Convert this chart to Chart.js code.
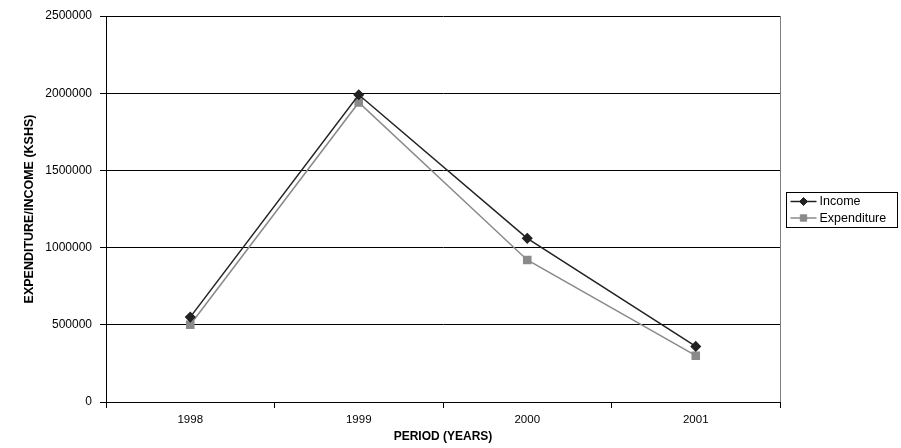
<!DOCTYPE html>
<html>
<head>
<meta charset="utf-8">
<title>Income and Expenditure 1998-2001</title>
<script src="https://cdn.jsdelivr.net/npm/chart.js@4/dist/chart.umd.min.js"></script>
<style>
  html, body { margin: 0; padding: 0; background: #ffffff; }
  #wrap { width: 901px; height: 448px; }
</style>
</head>
<body>
<div id="wrap"><canvas id="chart" width="901" height="448"></canvas></div>
<script>
// Period and amounts (KSHS)
const years = ['1998', '1999', '2000', '2001'];
const income = [550000, 1990000, 1060000, 360000];
const expenditure = [500000, 1940000, 920000, 300000];
const yTicks = [0, 500000, 1000000, 1500000, 2000000, 2500000];

const FONT = 'Liberation Sans, Arial, sans-serif';

// Grey frame on the right of the plot area and a boxed legend at the right
const frameAndLegend = {
  id: 'frameAndLegend',
  afterDraw(chart) {
    const ctx = chart.ctx;
    const a = chart.chartArea;
    ctx.save();
    ctx.strokeStyle = '#808080';
    ctx.lineWidth = 1;
    ctx.beginPath();
    ctx.moveTo(Math.round(a.right) + 0.5, a.top);
    ctx.lineTo(Math.round(a.right) + 0.5, a.bottom);
    ctx.stroke();

    // legend box
    const bx = 786.5, by = 192.5, bw = 111, bh = 35;
    ctx.strokeStyle = '#000000';
    ctx.strokeRect(bx, by, bw, bh);
    ctx.font = '12.5px ' + FONT;
    ctx.textBaseline = 'middle';
    ctx.textAlign = 'left';
    chart.data.datasets.forEach((ds, i) => {
      const y = by + 9 + i * 16.5;
      const x0 = bx + 4, x1 = bx + 30, xm = (x0 + x1) / 2;
      ctx.strokeStyle = ds.borderColor;
      ctx.lineWidth = 1.5;
      ctx.beginPath();
      ctx.moveTo(x0, y);
      ctx.lineTo(x1, y);
      ctx.stroke();
      ctx.fillStyle = ds.pointBackgroundColor;
      ctx.strokeStyle = ds.pointBorderColor;
      ctx.lineWidth = 1;
      Chart.helpers.drawPoint(ctx, {
        pointStyle: ds.pointStyle,
        radius: ds.pointRadius - 0.5,
        rotation: 0,
        borderWidth: 1
      }, xm, y);
      ctx.fillStyle = '#000000';
      ctx.fillText(ds.label, bx + 33, y + 0.5);
    });
    ctx.restore();
  }
};

new Chart(document.getElementById('chart'), {
  type: 'line',
  data: {
    labels: years,
    datasets: [
      {
        label: 'Income',
        data: income,
        borderColor: '#222222',
        backgroundColor: '#222222',
        pointBackgroundColor: '#222222',
        pointBorderColor: '#222222',
        pointStyle: 'rectRot',
        pointRadius: 4.5,
        borderWidth: 1.5,
        tension: 0
      },
      {
        label: 'Expenditure',
        data: expenditure,
        borderColor: '#8a8a8a',
        backgroundColor: '#8a8a8a',
        pointBackgroundColor: '#8a8a8a',
        pointBorderColor: '#8a8a8a',
        pointStyle: 'rect',
        pointRadius: 5,
        borderWidth: 1.5,
        tension: 0
      }
    ]
  },
  options: {
    responsive: false,
    animation: false,
    devicePixelRatio: 1,
    layout: { padding: { left: 0, top: 16, right: 121, bottom: 0 } },
    plugins: {
      legend: { display: false },
      tooltip: { enabled: false }
    },
    scales: {
      x: {
        type: 'category',
        offset: true,
        grid: {
          offset: true,
          drawOnChartArea: false,
          drawTicks: true,
          tickLength: 6,
          color: '#000000',
          lineWidth: 1
        },
        border: { display: true, color: '#000000', width: 1 },
        ticks: {
          color: '#000000',
          font: { family: FONT, size: 11.5 },
          padding: 5,
          maxRotation: 0
        },
        title: {
          display: true,
          text: 'PERIOD (YEARS)',
          color: '#000000',
          font: { family: FONT, size: 12, weight: 'bold' },
          padding: { top: 4, bottom: 4 }
        },
        afterFit(scale) { scale.height = 46; }
      },
      y: {
        min: 0,
        max: 2500000,
        afterBuildTicks(scale) {
          scale.ticks = yTicks.map(v => ({ value: v }));
        },
        grid: {
          drawOnChartArea: true,
          drawTicks: true,
          tickLength: 6,
          color: '#000000',
          lineWidth: 1
        },
        border: { display: true, color: '#000000', width: 1 },
        ticks: {
          color: '#000000',
          font: { family: FONT, size: 12 },
          padding: 8,
          callback: v => String(v)
        },
        title: {
          display: true,
          text: 'EXPENDITURE/INCOME (KSHS)',
          color: '#000000',
          font: { family: FONT, size: 12.5, weight: 'bold' },
          padding: { top: 22, bottom: 4 }
        },
        afterFit(scale) { scale.width = 106; }
      }
    }
  },
  plugins: [frameAndLegend]
});
</script>
</body>
</html>
